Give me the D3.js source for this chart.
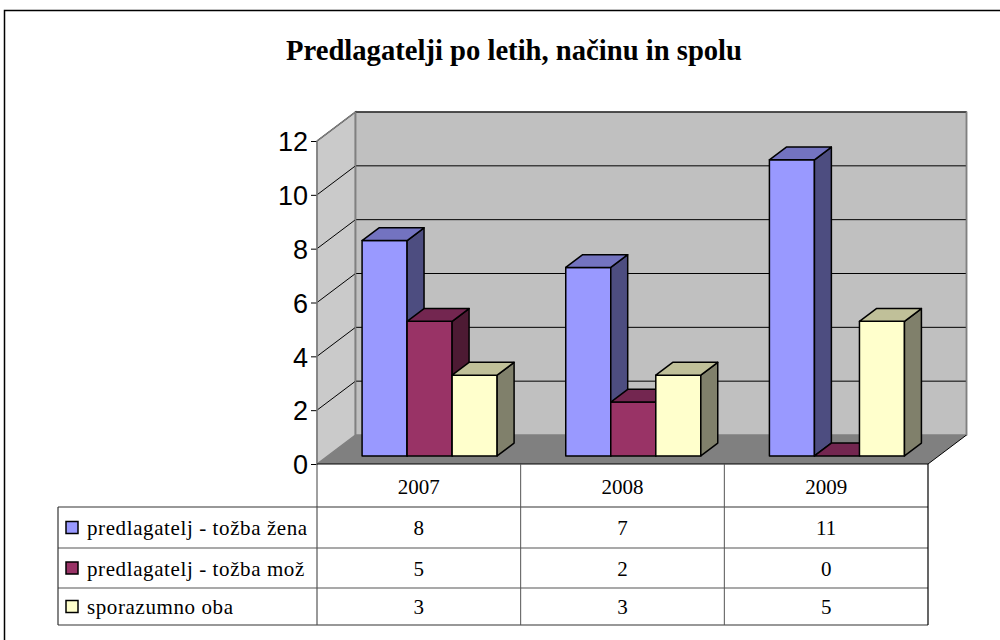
<!DOCTYPE html>
<html>
<head>
<meta charset="utf-8">
<script src="https://cdn.jsdelivr.net/npm/d3@7"></script>
<style>
  body { margin: 0; background: #fff; }
  svg { display: block; }
</style>
</head>
<body>
<script>
// data
const years = ["2007", "2008", "2009"];
const seriesNames = ["predlagatelj - tožba žena", "predlagatelj - tožba mož", "sporazumno oba"];
const zena = [8, 7, 11];
const moz = [5, 2, 0];
const oba = [3, 3, 5];
const yTicks = [0, 2, 4, 6, 8, 10, 12];

const allSeries = [zena, moz, oba];
// front, side, top colours per series
const colors = [
  { front: "#9999ff", side: "#4d4d80", top: "#7373c0" },
  { front: "#993366", side: "#4d1a33", top: "#732650" },
  { front: "#ffffcc", side: "#80806b", top: "#c0c099" }
];

const svg = d3.select("body").append("svg")
  .attr("width", 1000)
  .attr("height", 640);

// outer frame
svg.append("rect")
  .attr("x", 4.5).attr("y", 10.5)
  .attr("width", 1000).attr("height", 640)
  .attr("fill", "#fff").attr("stroke", "#000").attr("stroke-width", 1.5);

svg.append("text")
  .attr("x", 286).attr("y", 60)
  .attr("textLength", 456)
  .attr("lengthAdjust", "spacingAndGlyphs")
  .style("font-family", "'Liberation Serif', 'Times New Roman', serif")
  .style("font-weight", "bold")
  .style("font-size", "29px")
  .text("Predlagatelji po letih, načinu in spolu");

// geometry
const x0 = 317, x1 = 928;
const depthX = 38.5, depthY = -29;
const y = d3.scaleLinear().domain([0, 12]).range([464, 141]);
const x = d3.scaleBand().domain(years).range([x0, x1]).padding(0);
const sub = d3.scaleBand().domain(d3.range(3)).range([34.3, x.bandwidth() - 34.3]).padding(0);

const bx = y(0), topY = y(12);

// left side wall
svg.append("path")
  .attr("d", `M${x0},${bx} L${x0 + depthX},${bx + depthY} L${x0 + depthX},${topY + depthY} L${x0},${topY} Z`)
  .attr("fill", "#cacaca").attr("stroke", "#808080").attr("stroke-width", 1.5);

// back wall
svg.append("rect")
  .attr("x", x0 + depthX).attr("y", topY + depthY)
  .attr("width", x1 - x0).attr("height", bx - topY)
  .attr("fill", "#c0c0c0").attr("stroke", "#808080").attr("stroke-width", 1.5);

// floor
svg.append("path")
  .attr("d", `M${x0},${bx} L${x0 + depthX},${bx + depthY} L${x1 + depthX},${bx + depthY} L${x1},${bx} Z`)
  .attr("fill", "#808080").attr("stroke", "none");
svg.append("line")
  .attr("x1", x1).attr("y1", bx).attr("x2", x1 + depthX).attr("y2", bx + depthY)
  .attr("stroke", "#000").attr("stroke-width", 1);

// gridlines
const grid = yTicks.filter(d => d > 0);
svg.selectAll(".gback").data(grid).join("line")
  .attr("x1", x0 + depthX).attr("x2", x1 + depthX)
  .attr("y1", d => y(d) + depthY).attr("y2", d => y(d) + depthY)
  .attr("stroke", "#000").attr("stroke-width", 1);
svg.selectAll(".gside").data(grid).join("line")
  .attr("x1", x0).attr("x2", x0 + depthX)
  .attr("y1", d => y(d)).attr("y2", d => y(d) + depthY)
  .attr("stroke", "#000").attr("stroke-width", 1);
// restore grey wall edges on top
svg.append("line")
  .attr("x1", x0 + depthX).attr("x2", x0 + depthX)
  .attr("y1", topY + depthY).attr("y2", bx + depthY)
  .attr("stroke", "#808080").attr("stroke-width", 1.5);
svg.append("line")
  .attr("x1", x0).attr("x2", x0 + depthX)
  .attr("y1", topY).attr("y2", topY + depthY)
  .attr("stroke", "#808080").attr("stroke-width", 1.5);
svg.append("line")
  .attr("x1", x1 + depthX).attr("x2", x1 + depthX)
  .attr("y1", topY + depthY).attr("y2", bx + depthY)
  .attr("stroke", "#808080").attr("stroke-width", 1.5);

// bars
const fz = 0.28, bz = 0.72; // front and back depth of bars
const bars = [];
years.forEach((yr, i) => {
  allSeries.forEach((vals, s) => {
    bars.push({ yr, s, v: vals[i] });
  });
});

const barG = svg.append("g").attr("stroke", "#000").attr("stroke-width", 1.5).attr("stroke-linejoin", "round");
bars.forEach(d => {
  const left = x(d.yr) + sub(d.s) + fz * depthX;
  const right = left + sub.bandwidth();
  const base = y(0) + fz * depthY;
  const top = y(d.v) + fz * depthY;
  const ddx = (bz - fz) * depthX, ddy = (bz - fz) * depthY;
  const c = colors[d.s];
  if (d.v > 0) {
    barG.append("rect")
      .attr("x", left).attr("y", top)
      .attr("width", right - left).attr("height", base - top)
      .attr("fill", c.front);
    barG.append("path")
      .attr("d", `M${right},${top} L${right + ddx},${top + ddy} L${right + ddx},${base + ddy} L${right},${base} Z`)
      .attr("fill", c.side);
  }
  barG.append("path")
    .attr("d", `M${left},${top} L${left + ddx},${top + ddy} L${right + ddx},${top + ddy} L${right},${top} Z`)
    .attr("fill", c.top);
});

// y axis
const yAxis = d3.axisLeft(y).tickValues(yTicks).tickSize(6).tickPadding(3);
const axG = svg.append("g").attr("transform", `translate(${x0},0)`).call(yAxis);
axG.select(".domain").remove();
axG.selectAll(".tick line").attr("stroke", "#000");
axG.selectAll(".tick text")
  .style("font-family", "'Liberation Sans', Arial, sans-serif")
  .style("font-size", "27px")
  .attr("fill", "#000")
  .attr("dy", "0.36em");
svg.append("line")
  .attr("x1", x0).attr("x2", x0).attr("y1", topY).attr("y2", 507)
  .attr("stroke", "#808080").attr("stroke-width", 1.5);

// data table
const rowY = [464, 507, 548, 588, 625];
const legX = 58;
const serif = "'Liberation Serif', 'Times New Roman', serif";
const tbl = svg.append("g");

tbl.append("line").attr("x1", x0).attr("x2", x1).attr("y1", bx).attr("y2", bx)
  .attr("stroke", "#000").attr("stroke-width", 1);
tbl.selectAll(".hl").data(rowY.slice(1)).join("line")
  .attr("x1", legX).attr("x2", x1).attr("y1", d => d).attr("y2", d => d)
  .attr("stroke", (d, i) => i === 0 || i === 3 ? "#333" : "#555").attr("stroke-width", 1.2);
tbl.append("line").attr("x1", legX).attr("x2", legX).attr("y1", rowY[1]).attr("y2", rowY[4])
  .attr("stroke", "#333").attr("stroke-width", 1.2);
tbl.append("line").attr("x1", x0).attr("x2", x0).attr("y1", rowY[1]).attr("y2", rowY[4])
  .attr("stroke", "#555").attr("stroke-width", 1.2);
tbl.selectAll(".vl").data(years.slice(1)).join("line")
  .attr("x1", d => x(d)).attr("x2", d => x(d)).attr("y1", rowY[0]).attr("y2", rowY[4])
  .attr("stroke", "#555").attr("stroke-width", 1);
tbl.append("line").attr("x1", x1).attr("x2", x1).attr("y1", rowY[0]).attr("y2", rowY[4])
  .attr("stroke", "#000").attr("stroke-width", 1.2);

tbl.selectAll(".yr").data(years).join("text")
  .attr("x", d => x(d) + x.bandwidth() / 2).attr("y", 494)
  .attr("text-anchor", "middle")
  .style("font-family", serif).style("font-size", "21px")
  .text(d => d);

seriesNames.forEach((name, s) => {
  const cy = (rowY[s + 1] + rowY[s + 2]) / 2;
  tbl.append("rect")
    .attr("x", 66).attr("y", cy - 6).attr("width", 12).attr("height", 12)
    .attr("fill", colors[s].front).attr("stroke", "#000").attr("stroke-width", 1.5);
  tbl.append("text")
    .attr("x", 87).attr("y", cy + 7.5)
    .style("font-family", serif).style("font-size", "21px")
    .style("letter-spacing", "0.6px")
    .text(name);
  tbl.selectAll(".v" + s).data(allSeries[s]).join("text")
    .attr("x", (d, i) => x(years[i]) + x.bandwidth() / 2).attr("y", cy + 7.5)
    .attr("text-anchor", "middle")
    .style("font-family", serif).style("font-size", "21px")
    .text(d => d);
});
</script>
</body>
</html>
